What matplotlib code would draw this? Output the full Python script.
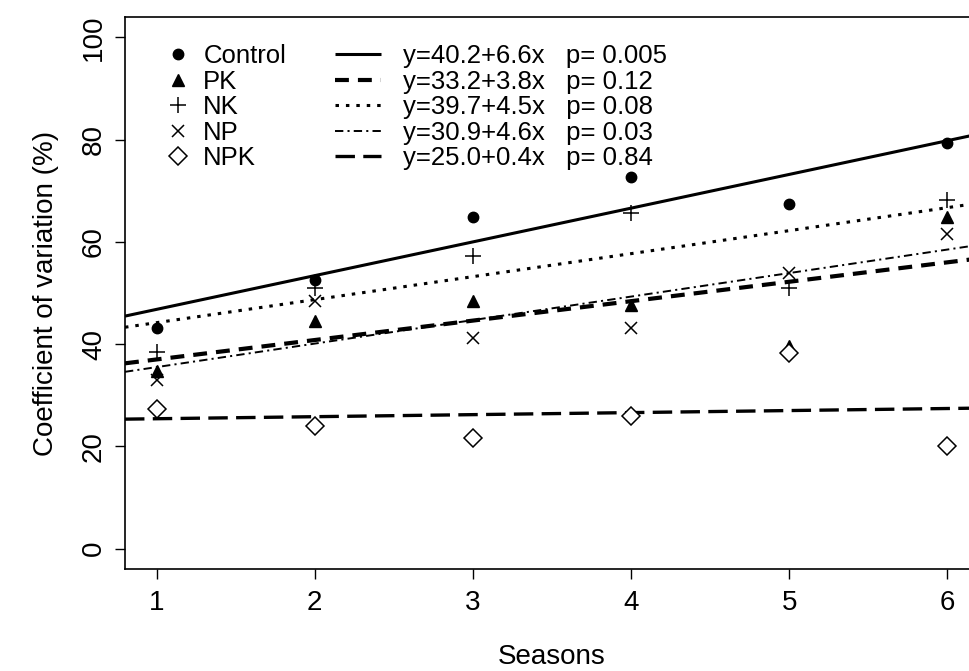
import matplotlib
matplotlib.use("Agg")
import matplotlib.pyplot as plt
import numpy as np

plt.rcParams['font.family'] = ['Liberation Sans', 'DejaVu Sans']
plt.rcParams['lines.scale_dashes'] = False

seasons = [1, 2, 3, 4, 5, 6]
treatments = ["Control", "PK", "NK", "NP", "NPK"]
control = [43.2, 52.6, 64.8, 72.6, 67.5, 79.3]
pk = [34.8, 44.6, 48.5, 47.6, 39.7, 64.8]
nk = [38.4, 50.9, 57.3, 65.6, 50.9, 68.1]
np_ = [32.9, 48.5, 41.1, 43.2, 54.0, 61.6]
npk = [27.4, 23.9, 21.7, 26.0, 38.2, 20.0]
series = [control, pk, nk, np_, npk]

intercepts = [40.2, 33.2, 39.7, 30.9, 25.0]
slopes = [6.6, 3.8, 4.5, 4.6, 0.4]
pvalues = ["0.005", "0.12", "0.08", "0.03", "0.84"]

yticks = [0, 20, 40, 60, 80, 100]

marker_styles = [
    dict(marker='o', ms=7.5, mfc='black', mec='black', mew=1),
    dict(marker='^', ms=9, mfc='black', mec='black', mew=1),
    dict(marker='+', ms=12, mfc='none', mec='black', mew=1.1),
    dict(marker='x', ms=8.5, mfc='none', mec='black', mew=1.1),
    dict(marker='D', ms=9, mfc='white', mec='black', mew=1.1),
]
line_styles = [
    dict(lw=2.2, ls='-'),
    dict(lw=3.0, ls=(0, (10, 6.5))),
    dict(lw=2.2, ls=(0, (2.5, 5))),
    dict(lw=1.4, ls=(0, (6, 3, 1.5, 3))),
    dict(lw=2.4, ls=(0, (14, 6))),
]

fig = plt.figure(figsize=(9.7, 6.71), dpi=100)
ax = fig.add_axes([125/970, 1 - 569/671, (979 - 125)/970, (569 - 17)/671])

xlim = (0.8, 6.2)
ax.set_xlim(*xlim)
ax.set_ylim(-4, 104)

xx = np.array(xlim)
line_handles = []
for a, b, st in zip(intercepts, slopes, line_styles):
    h, = ax.plot(xx, a + b * xx, color='black', solid_capstyle='butt',
                 dash_capstyle='butt', **st)
    line_handles.append(h)

marker_handles = []
for vals, ms in zip(series, marker_styles):
    h, = ax.plot(seasons, vals, ls='none', zorder=3, **ms)
    marker_handles.append(h)

ax.set_xticks(seasons)
ax.set_yticks(yticks)
ax.tick_params(axis='both', direction='out', length=7, width=1, labelsize=20)
ax.tick_params(axis='x', pad=8)
ax.tick_params(axis='y', pad=6)
for lab in ax.get_yticklabels():
    lab.set_rotation(90)
    lab.set_va('center')
for s in ax.spines.values():
    s.set_linewidth(1.2)

ax.set_xlabel("Seasons", fontsize=20, labelpad=20)
ax.set_ylabel("Coefficient of variation (%)", fontsize=20, labelpad=16)

leg1 = ax.legend(marker_handles, treatments, loc='upper left',
                 bbox_to_anchor=(0.015, 1.0), frameon=False, fontsize=18.5,
                 handlelength=1.0, handletextpad=0.5, labelspacing=0.06,
                 borderaxespad=0.0, borderpad=1.05, numpoints=1)
ax.add_artist(leg1)

eq_labels = ["y=%.1f+%.1fx   p= %s" % (a, b, p) for a, b, p in zip(intercepts, slopes, pvalues)]
leg2 = ax.legend(line_handles, eq_labels, loc='upper left',
                 bbox_to_anchor=(0.214, 1.0), frameon=False, fontsize=18.5,
                 handlelength=1.8, handletextpad=0.85, labelspacing=0.06,
                 borderaxespad=0.0, borderpad=1.05)

fig.savefig("out.png", dpi=100)
